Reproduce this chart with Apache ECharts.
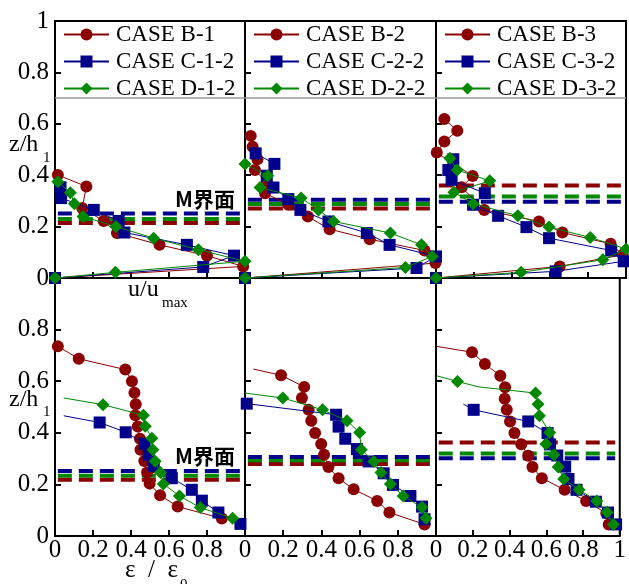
<!DOCTYPE html>
<html><head><meta charset="utf-8">
<script src="https://cdn.jsdelivr.net/npm/echarts@6/dist/echarts.min.js"></script>
<style>html,body{margin:0;padding:0;background:#fff}#c{width:629px;height:584px}</style>
</head><body><div id="c"></div>
<script>
// ---------- DATA ----------
const caseNames = [
  ['CASE B-1', 'CASE C-1-2', 'CASE D-1-2'],
  ['CASE B-2', 'CASE C-2-2', 'CASE D-2-2'],
  ['CASE B-3', 'CASE C-3-2', 'CASE D-3-2']
];
const xTicks = [0, 0.2, 0.4, 0.6, 0.8, 1];
const yTicks = [0, 0.2, 0.4, 0.6, 0.8, 1];

// Top row: u/u_max (x) vs z/h1 (y)
const uB1 = [[0,0],[0.99,0.045],[0.80,0.087],[0.55,0.129],[0.326,0.175],[0.256,0.222],[0.143,0.272],[0.165,0.356],[0.015,0.401]];
const uC1 = [[0,0],[0.78,0.043],[0.942,0.087],[0.694,0.129],[0.365,0.177],[0.335,0.222],[0.204,0.265],[0.032,0.311],[0.029,0.353]];
const uD1 = [[0,0],[0.318,0.022],[1.0,0.065],[0.755,0.11],[0.519,0.155],[0.321,0.2],[0.148,0.239],[0.102,0.289],[0.081,0.332],[0.015,0.375]];

const uB2 = [[0,0],[0.997,0.058],[0.94,0.107],[0.653,0.151],[0.443,0.19],[0.329,0.239],[0.227,0.285],[0.105,0.33],[0.114,0.371],[0.052,0.42],[0.065,0.462],[0.04,0.511],[0.03,0.553]];
const uC2 = [[0,0],[0.898,0.039],[1.0,0.084],[0.757,0.129],[0.638,0.175],[0.437,0.22],[0.29,0.265],[0.227,0.307],[0.149,0.352],[0.114,0.398],[0.154,0.444],[0.056,0.485]];
const uD2 = [[0,0],[0.84,0.041],[0.98,0.084],[0.924,0.129],[0.761,0.175],[0.464,0.22],[0.385,0.265],[0.294,0.311],[0.079,0.352],[0.119,0.398],[0,0.444]];

const uB3 = [[0,0],[0.651,0.045],[0.983,0.09],[0.919,0.133],[0.665,0.177],[0.542,0.22],[0.254,0.265],[0.135,0.353],[0.193,0.397],[0.004,0.488],[0.044,0.531],[0.112,0.573],[0.044,0.619]];
const uC3 = [[0,0],[0.63,0.026],[0.988,0.065],[0.922,0.107],[0.595,0.155],[0.476,0.198],[0.327,0.242],[0.195,0.285],[0.257,0.33],[0.082,0.382],[0.065,0.42],[0.091,0.462]];
const uD3 = [[0,0],[0.448,0.022],[0.878,0.071],[1.0,0.113],[0.812,0.158],[0.595,0.198],[0.431,0.242],[0.195,0.289],[0.094,0.334],[0.283,0.378],[0.112,0.42],[0.073,0.466]];

// Bottom row: eps/eps0 (x) vs z/h1 (y)
const eB1 = [[0.015,0.735],[0.125,0.687],[0.37,0.645],[0.405,0.6],[0.418,0.555],[0.425,0.511],[0.423,0.468],[0.436,0.424],[0.447,0.377],[0.45,0.334],[0.47,0.291],[0.485,0.246],[0.498,0.203],[0.553,0.158],[0.646,0.114],[0.878,0.068]];
const eC1 = [[0.235,0.44],[0.372,0.402],[0.472,0.358],[0.493,0.315],[0.52,0.272],[0.615,0.224],[0.72,0.179],[0.773,0.137],[0.86,0.091],[0.976,0.047]];
const eD1 = [[0.253,0.509],[0.465,0.468],[0.475,0.425],[0.51,0.379],[0.515,0.334],[0.527,0.29],[0.555,0.246],[0.57,0.202],[0.655,0.155],[0.765,0.11],[0.935,0.069]];

const eB2 = [[0.189,0.623],[0.31,0.578],[0.298,0.535],[0.333,0.489],[0.347,0.447],[0.367,0.399],[0.399,0.357],[0.414,0.315],[0.437,0.267],[0.49,0.224],[0.569,0.181],[0.692,0.136],[0.756,0.091],[0.94,0.045]];
const eC2 = [[0.009,0.513],[0.477,0.47],[0.49,0.424],[0.525,0.377],[0.586,0.337],[0.647,0.289],[0.726,0.243],[0.775,0.198],[0.866,0.155],[0.927,0.114],[0.94,0.065]];
const eD2 = [[0.198,0.535],[0.406,0.489],[0.534,0.447],[0.6,0.401],[0.609,0.334],[0.674,0.289],[0.712,0.246],[0.761,0.202],[0.828,0.155],[0.927,0.111],[0.948,0.069]];

const eB3 = [[0.196,0.712],[0.266,0.667],[0.35,0.621],[0.376,0.577],[0.374,0.532],[0.385,0.489],[0.403,0.444],[0.427,0.399],[0.464,0.356],[0.502,0.311],[0.525,0.267],[0.576,0.224],[0.7,0.179],[0.817,0.136],[0.927,0.088],[0.94,0.045]];
const eC3 = [[0.205,0.489],[0.502,0.444],[0.607,0.399],[0.62,0.355],[0.66,0.312],[0.703,0.269],[0.721,0.221],[0.765,0.179],[0.87,0.133],[0.936,0.091],[0.98,0.045]];
const eD3 = [[0.117,0.599],[0.542,0.554],[0.555,0.511],[0.563,0.466],[0.619,0.401],[0.598,0.357],[0.642,0.315],[0.665,0.267],[0.695,0.221],[0.779,0.179],[0.875,0.136],[0.931,0.092],[0.966,0.045]];

// curve-only points (no marker) of the bottom-row fitted lines
const eB1Line = [];
const eC1Line = [[0.046,0.466]];
const eD1Line = [[0.046,0.535]];
const eB2Line = [[0.044,0.647]];
const eC2Line = [];
const eD2Line = [[0,0.554]];
const eB3Line = [[0.004,0.735]];
const eC3Line = [[0.149,0.511]];
const eD3Line = [[0.004,0.621],[0.231,0.578]];

// M-interface levels (z/h1) for B, C, D in each panel
const mTop = [[0.214,0.2505,0.23],[0.27,0.304,0.288],[0.36,0.297,0.317]];
const mBot = [[0.218,0.252,0.234],[0.279,0.306,0.294],[0.362,0.301,0.32]];
const mSpan = [0.015, 0.975];
const legendLineLevel = 0.7;

// ---------- STYLE / LAYOUT ----------
const colors = ['#8B0000', '#00008B', '#008800'];
const symbols = ['circle', 'rect', 'diamond'];
const symSizes = [12, 12, 13];
const serif = 'Liberation Serif';
const gridLeft = [55, 245, 436];
const gridWidth = [190, 191, 190];

const topData = [[uB1,uC1,uD1],[uB2,uC2,uD2],[uB3,uC3,uD3]];
const botData = [[eB1,eC1,eD1],[eB2,eC2,eD2],[eB3,eC3,eD3]];
const botLine = [[eB1Line,eC1Line,eD1Line],[eB2Line,eC2Line,eD2Line],[eB3Line,eC3Line,eD3Line]];

const grids = [], xAxes = [], yAxes = [], series = [], legends = [];
for (let r = 0; r < 2; r++) {
  for (let k = 0; k < 3; k++) {
    const idx = r * 3 + k;
    grids.push({left: gridLeft[k], width: gridWidth[k], top: r === 0 ? 21 : 278, height: r === 0 ? 257 : 258,
      show: true, borderColor: '#000', borderWidth: 2, backgroundColor: 'transparent'});
    xAxes.push({type: 'value', gridIndex: idx, min: xTicks[0], max: xTicks[xTicks.length-1], interval: 0.2,
      axisLine: {show: false}, splitLine: {show: false},
      axisTick: {show: true, inside: true, length: 6, lineStyle: {color: '#000', width: 2}},
      axisLabel: {show: r === 1, showMaxLabel: k === 2, showMinLabel: true, margin: 2, color: '#000',
        fontFamily: serif, fontSize: 25, formatter: v => String(+v.toFixed(1))}});
    yAxes.push({type: 'value', gridIndex: idx, min: yTicks[0], max: yTicks[yTicks.length-1], interval: 0.2,
      axisLine: {show: false}, splitLine: {show: false},
      axisTick: {show: true, inside: true, length: 6, lineStyle: {color: '#000', width: 2}},
      axisLabel: {show: k === 0, showMaxLabel: r === 0, margin: 6, color: '#000',
        fontFamily: serif, fontSize: 25, formatter: v => String(+v.toFixed(1))}});
    // M interface dashed lines
    const levels = r === 0 ? mTop[k] : mBot[k];
    [0, 2, 1].forEach(c => {
      series.push({type: 'line', name: '_m' + idx + c, xAxisIndex: idx, yAxisIndex: idx, z: 2,
        data: [[mSpan[0], levels[c]], [mSpan[1], levels[c]]], symbol: 'none', silent: true,
        lineStyle: {color: colors[c], width: 4, type: [14, 7]}});
    });
    for (let c = 0; c < 3; c++) {
      let data;
      if (r === 0) {
        data = topData[k][c].map(p => ({value: p}));
      } else {
        data = botData[k][c].map(p => ({value: p}))
          .concat(botLine[k][c].map(p => ({value: p, symbol: 'none'})));
        data.sort((a, b) => b.value[1] - a.value[1]);
      }
      const s = {type: 'line', name: caseNames[k][c], xAxisIndex: idx, yAxisIndex: idx, z: 3 + c,
        data, symbol: symbols[c], symbolSize: symSizes[c], showAllSymbol: true,
        lineStyle: {color: colors[c], width: 1}, itemStyle: {color: colors[c]}};
      if (r === 0 && c === 0) {
        s.markLine = {silent: true, symbol: 'none', label: {show: false},
          lineStyle: {color: '#999', width: 1.5, type: 'solid'}, data: [{yAxis: legendLineLevel}]};
      }
      series.push(s);
    }
    if (r === 0) {
      legends.push({left: gridLeft[k] + 3, top: 18, orient: 'vertical', itemWidth: 45, itemHeight: 15, itemGap: 4,
        padding: 5, data: caseNames[k], selectedMode: false,
        textStyle: {fontFamily: serif, fontSize: 23, color: '#000', padding: [0,0,0,2]}});
    }
  }
}

const txt = (text, x, y, size, fam, extra) => ({type: 'text', x, y, z: 100,
  style: Object.assign({text, fontSize: size, fontFamily: fam, fill: '#000', verticalAlign: 'middle', align: 'left'}, extra || {})});

const graphics = [
  txt('z/h', 9, 145, 24, serif), txt('1', 43, 158, 15, serif),
  txt('z/h', 9, 400, 24, serif), txt('1', 43, 412, 15, serif),
  txt('u/u', 128, 290, 24, serif), txt('max', 162, 303, 15, serif),
  txt('M界面', 175, 199, 21, 'Noto Sans CJK JP', {fontWeight: 'bold'}),
  txt('M界面', 175, 456, 21, 'Noto Sans CJK JP', {fontWeight: 'bold'}),
  txt('ε  /  ε', 125, 570, 25, serif), txt('0', 180, 585, 15, serif)
];

const chart = echarts.init(document.getElementById('c'), null, {renderer: 'canvas'});
chart.setOption({
  animation: false,
  backgroundColor: '#fff',
  grid: grids, xAxis: xAxes, yAxis: yAxes, series, legend: legends, graphic: graphics
});
</script></body></html>
